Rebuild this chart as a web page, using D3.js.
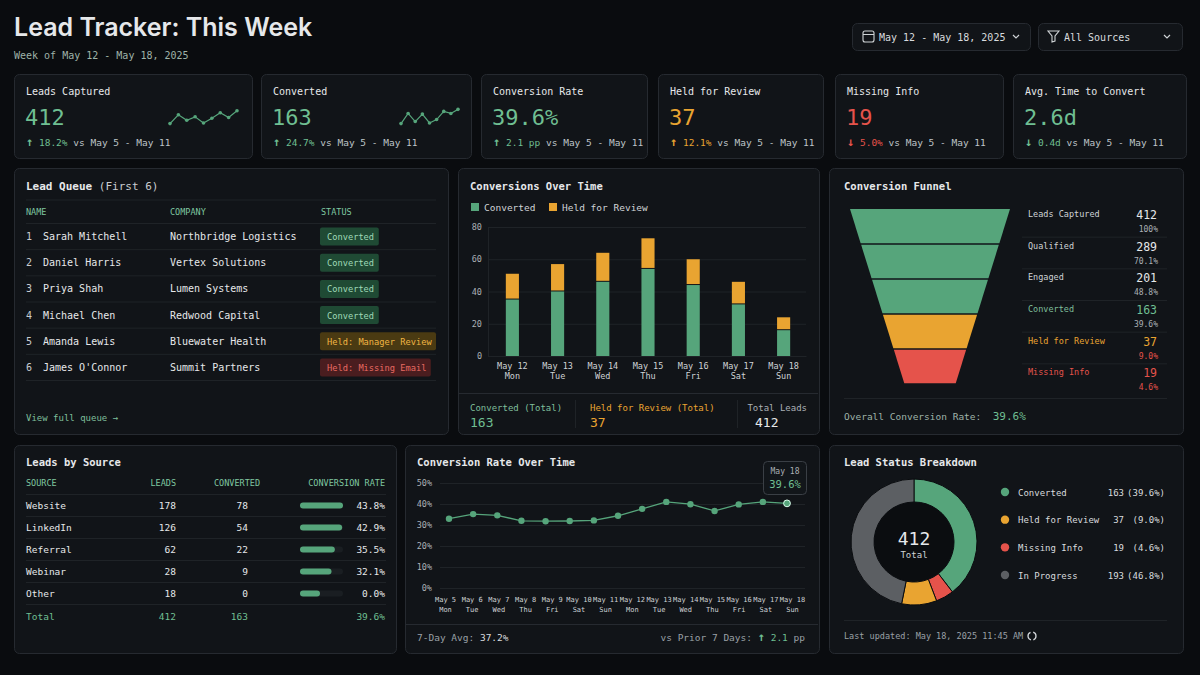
<!DOCTYPE html>
<html><head><meta charset="utf-8">
<script src="https://cdn.jsdelivr.net/npm/d3@7/dist/d3.min.js"></script>
<style>
html,body{margin:0;padding:0;background:#0a0c0f;}
svg{display:block;}
text{font-family:"DejaVu Sans Mono",monospace;white-space:pre;}
</style></head><body>
<svg id="c" width="1200" height="675"></svg>
<script>
// ---------- DATA ----------
const kpiLabels = ["Leads Captured","Converted","Conversion Rate","Held for Review","Missing Info","Avg. Time to Convert"];
const kpiValues = ["412","163","39.6%","37","19","2.6d"];
const kpiDeltas = ["18.2%","24.7%","2.1 pp","12.1%","5.0%","0.4d"];
const kpiArrows = ["↑","↑","↑","↑","↓","↓"];
const kpiTones = ["g","g","g","o","r","g"];
const sparkLeads = [5,18,10,15,6,13,21,14,24];
const sparkConv = [5,20,8,19,6,11,23,20,26];

const queueNames = ["Sarah Mitchell","Daniel Harris","Priya Shah","Michael Chen","Amanda Lewis","James O'Connor"];
const queueCompanies = ["Northbridge Logistics","Vertex Solutions","Lumen Systems","Redwood Capital","Bluewater Health","Summit Partners"];
const queueStatus = ["Converted","Converted","Converted","Converted","Held: Manager Review","Held: Missing Email"];

const days = ["May 12","May 13","May 14","May 15","May 16","May 17","May 18"];
const weekdays = ["Mon","Tue","Wed","Thu","Fri","Sat","Sun"];
const convertedByDay = [35,40,46,54,44,32,16];
const heldByDay = [16,17,18,19,16,14,8];
const barTicks = [0,20,40,60,80];

const funnelStages = ["Leads Captured","Qualified","Engaged","Converted","Held for Review","Missing Info"];
const funnelCounts = [412,289,201,163,37,19];
const funnelPcts = ["100%","70.1%","48.8%","39.6%","9.0%","4.6%"];

const sources = ["Website","LinkedIn","Referral","Webinar","Other"];
const sourceLeads = [178,126,62,28,18];
const sourceConverted = [78,54,22,9,0];
const sourceRates = [43.8,42.9,35.5,32.1,0.0];

const rateDays = ["May 5","May 6","May 7","May 8","May 9","May 10","May 11","May 12","May 13","May 14","May 15","May 16","May 17","May 18"];
const rateWeekdays = ["Mon","Tue","Wed","Thu","Fri","Sat","Sun","Mon","Tue","Wed","Thu","Fri","Sat","Sun"];
const rateValues = [33.0,35.2,34.6,32.0,31.8,31.9,32.2,34.4,37.7,41.0,39.9,36.7,39.8,41.0,40.3];
const rateTicks = [0,10,20,30,40,50];

const statusLabels = ["Converted","Missing Info","Held for Review","In Progress"];
const statusCounts = [163,19,37,193];
const legendLabels = ["Converted","Held for Review","Missing Info","In Progress"];
const legendCounts = ["163","37","19","193"];
const legendPcts = ["(39.6%)","(9.0%)","(4.6%)","(46.8%)"];

// ---------- STYLE ----------
const C = {g:"#56a57b", gt:"#6fbf92", o:"#e9a431", r:"#e5534b", grey:"#5c5f63", txt:"#e6e8ea", sub:"#9aa0a6", dim:"#7d848b", card:"#111418", border:"#262a30", grid:"#1f2327", hdr:"#7fc7a0"};
const tone = {g:C.gt, o:C.o, r:C.r};
const svg = d3.select("#c");
svg.append("rect").attr("width",1200).attr("height",675).attr("fill","#0a0c0f");

function card(x,y,w,h){ svg.append("rect").attr("x",x+.5).attr("y",y+.5).attr("width",w).attr("height",h).attr("rx",5).attr("fill",C.card).attr("stroke",C.border); }
function t(x,y,s,o={}){ const e=svg.append("text").attr("x",x).attr("y",y).text(s).attr("fill",o.fill||C.txt).attr("font-size",o.size||10).attr("text-anchor",o.anchor||"start");
  if(o.weight) e.attr("font-weight",o.weight); if(o.family) e.style("font-family",o.family); return e; }

// ---------- HEADER ----------
t(14,36,"Lead Tracker: This Week",{size:25,weight:600,family:"Inter, 'Noto Sans', sans-serif"});
t(14,59,"Week of May 12 - May 18, 2025",{size:10,fill:"#9fb3a8"});
card(852,23,178,27); card(1038,23,144,27);
svg.append("rect").attr("x",863).attr("y",31).attr("width",11).attr("height",11).attr("rx",2).attr("fill","none").attr("stroke","#cfd3d6").attr("stroke-width",1.1);
svg.append("line").attr("x1",863).attr("x2",874).attr("y1",34.5).attr("y2",34.5).attr("stroke","#cfd3d6");
t(879,41,"May 12 - May 18, 2025",{size:10,fill:"#d8dbde"});
svg.append("path").attr("d","M1013,35 l3,3 l3,-3").attr("fill","none").attr("stroke","#cfd3d6").attr("stroke-width",1.2);
svg.append("path").attr("d","M1048,31 h11 l-4,5 v5 l-3,1 v-6 z").attr("fill","none").attr("stroke","#cfd3d6").attr("stroke-width",1.1);
t(1064,41,"All Sources",{size:10,fill:"#d8dbde"});
svg.append("path").attr("d","M1164,35 l3,3 l3,-3").attr("fill","none").attr("stroke","#cfd3d6").attr("stroke-width",1.2);

// ---------- KPI ----------
const kx=[14,261,481,658,835,1013], kw=[238,210,166,165,168,173];
kpiLabels.forEach((l,i)=>{
  const x=kx[i]; card(x,74,kw[i],84);
  t(x+12,95,l,{size:10});
  t(x+11,125,kpiValues[i],{size:22,fill:tone[kpiTones[i]]});
  const ac = kpiTones[i]==="r"?C.r:(kpiTones[i]==="o"?C.o:C.gt);
  const g=t(x+12,146,"",{size:9.5,fill:"#bfc4c8"});
  g.append("tspan").text(kpiArrows[i]).attr("fill",ac).attr("font-size",12).attr("font-weight","bold");
  g.append("tspan").text(" "+kpiDeltas[i]).attr("fill",ac);
  g.append("tspan").text(" vs May 5 - May 11");
});
function spark(data,x0,x1,y0,y1){
  const sx=d3.scaleLinear().domain([0,data.length-1]).range([x0,x1]);
  const sy=d3.scaleLinear().domain([0,28]).range([y1,y0]);
  svg.append("path").attr("d",d3.line().x((d,i)=>sx(i)).y(d=>sy(d))(data)).attr("fill","none").attr("stroke",C.g).attr("stroke-width",1.2);
  svg.selectAll(null).data(data).enter().append("circle").attr("cx",(d,i)=>sx(i)).attr("cy",d=>sy(d)).attr("r",1.8).attr("fill",C.g);
}
spark(sparkLeads,170,237,108,127);
spark(sparkConv,401,458,108,127);

// ---------- LEAD QUEUE ----------
card(14,168,434,266);
t(26,190,"Lead Queue",{size:11,weight:"bold"}).append("tspan").text(" (First 6)").attr("font-weight","normal").attr("fill","#c9cdd0");
svg.append("line").attr("x1",26).attr("x2",436).attr("y1",200).attr("y2",200).attr("stroke",C.grid);
t(26,215,"NAME",{size:8.5,fill:C.hdr}); t(170,215,"COMPANY",{size:8.5,fill:C.hdr}); t(321,215,"STATUS",{size:8.5,fill:C.hdr});
const qy=d3.scaleBand().domain(d3.range(6)).range([223.5,380.5]);
queueNames.forEach((n,i)=>{
  const y=qy(i), cy=y+qy.bandwidth()/2;
  svg.append("line").attr("x1",26).attr("x2",436).attr("y1",y).attr("y2",y).attr("stroke",C.grid);
  t(26,cy+3.5,String(i+1),{size:10,fill:"#c9cdd0"});
  t(43,cy+3.5,n,{size:10});
  t(170,cy+3.5,queueCompanies[i],{size:10});
  const s=queueStatus[i];
  const bg = s==="Converted"?"#1f4a34":(s.includes("Manager")?"#4a3a12":"#4a1d1f");
  const fg = s==="Converted"?"#9fd9b7":(s.includes("Manager")?"#f0b544":"#e86a62");
  const bw = s.length*5.2+12;
  svg.append("rect").attr("x",320).attr("y",cy-9).attr("width",bw).attr("height",18).attr("rx",2).attr("fill",bg);
  t(327,cy+3.5,s,{size:8.7,fill:fg});
});
svg.append("line").attr("x1",26).attr("x2",436).attr("y1",380.5).attr("y2",380.5).attr("stroke",C.grid);
t(26,421,"View full queue →",{size:9,fill:"#7fbf9b"});

// ---------- CONVERSIONS OVER TIME ----------
card(458,168,361,266);
t(470,190,"Conversions Over Time",{size:10.5,weight:"bold"});
svg.append("rect").attr("x",471).attr("y",203).attr("width",8).attr("height",8).attr("fill",C.g);
t(484,211,"Converted",{size:9.5,fill:"#cfd3d6"});
svg.append("rect").attr("x",549).attr("y",203).attr("width",8).attr("height",8).attr("fill",C.o);
t(562,211,"Held for Review",{size:9.5,fill:"#cfd3d6"});
const bx=d3.scaleBand().domain(days).range([490,806]).paddingInner(0.71).paddingOuter(0.35);
const by=d3.scaleLinear().domain([0,80]).range([356,227]);
svg.append("g").selectAll(null).data(barTicks).enter().append("line").attr("x1",488).attr("x2",806).attr("y1",d=>by(d)+.5).attr("y2",d=>by(d)+.5).attr("stroke",C.grid);
const yAx=svg.append("g").attr("transform","translate(482,0)").call(d3.axisLeft(by).tickValues(barTicks).tickSize(0).tickPadding(0));
yAx.select(".domain").remove(); yAx.selectAll("text").attr("fill","#aab0b5").attr("font-size",8.5).attr("text-anchor","end");
svg.append("line").attr("x1",488.5).attr("x2",488.5).attr("y1",227).attr("y2",356).attr("stroke",C.grid);
svg.selectAll(null).data(days).enter().append("rect").attr("x",d=>bx(d)).attr("width",bx.bandwidth())
  .attr("y",(d,i)=>by(convertedByDay[i])).attr("height",(d,i)=>by(0)-by(convertedByDay[i])).attr("fill",C.g);
svg.selectAll(null).data(days).enter().append("rect").attr("x",d=>bx(d)).attr("width",bx.bandwidth())
  .attr("y",(d,i)=>by(convertedByDay[i]+heldByDay[i])).attr("height",(d,i)=>by(convertedByDay[i])-by(convertedByDay[i]+heldByDay[i])-1).attr("fill",C.o);
const xAx=svg.append("g").attr("transform","translate(0,356)").call(d3.axisBottom(bx).tickSize(0).tickPadding(0));
xAx.select(".domain").attr("stroke",C.grid);
xAx.selectAll("text").each(function(d,i){ const e=d3.select(this).text(null).attr("fill","#cfd3d6").attr("font-size",8.5);
  e.append("tspan").attr("x",0).attr("dy","1.5em").text(d); e.append("tspan").attr("x",0).attr("dy","1.2em").text(weekdays[i]); });
svg.append("line").attr("x1",459).attr("x2",818).attr("y1",393.5).attr("y2",393.5).attr("stroke",C.border);
svg.append("line").attr("x1",575.5).attr("x2",575.5).attr("y1",400).attr("y2",428).attr("stroke",C.grid);
svg.append("line").attr("x1",737.5).attr("x2",737.5).attr("y1",400).attr("y2",428).attr("stroke",C.grid);
t(470,411,"Converted (Total)",{size:9,fill:"#7fbf9b"}); t(470,427,"163",{size:13,fill:C.gt});
t(590,411,"Held for Review (Total)",{size:9,fill:C.o}); t(590,427,"37",{size:13,fill:C.o});
t(807,411,"Total Leads",{size:9,fill:"#aab0b5",anchor:"end"}); t(755,427,"412",{size:13});

// ---------- FUNNEL ----------
card(829,168,354,266);
t(844,190,"Conversion Funnel",{size:10.5,weight:"bold"});
const segColors=[C.g,C.g,C.g,C.o,C.r];
const fy=d3.scaleLinear().domain([0,5]).range([209,384]);
const fw=d3.scaleLinear().domain([209,384]).range([80,25.5]);
segColors.forEach((col,k)=>{
  const y0=fy(k)+(k?0.8:0), y1=fy(k+1)-0.8, cx=930;
  svg.append("path").attr("d",`M${cx-fw(y0)},${y0}L${cx+fw(y0)},${y0}L${cx+fw(y1)},${y1}L${cx-fw(y1)},${y1}Z`).attr("fill",col);
});
const fr=d3.scaleLinear().domain([0,6]).range([205,395]);
funnelStages.forEach((s,i)=>{
  const y=fr(i);
  const c = i===4?C.o:(i===5?C.r:(i===3?"#7fbf9b":"#cfd3d6"));
  const vc = i===4?C.o:(i===5?C.r:(i===3?C.gt:C.txt));
  const pc = i===4||i===5?C.r:"#aab0b5";
  t(1028,y+12,s,{size:8.5,fill:c});
  t(1157,y+14,String(funnelCounts[i]),{size:11.5,fill:vc,anchor:"end"});
  t(1158,y+27,funnelPcts[i],{size:8,fill:pc,anchor:"end"});
  if(i<5) svg.append("line").attr("x1",1022).attr("x2",1167).attr("y1",fr(i+1)+.5).attr("y2",fr(i+1)+.5).attr("stroke",C.grid);
});
svg.append("line").attr("x1",844).attr("x2",1167).attr("y1",398.5).attr("y2",398.5).attr("stroke",C.grid);
const ov=t(844,420,"Overall Conversion Rate:  ",{size:9.5,fill:"#9fb3a8"});
ov.append("tspan").text("39.6%").attr("fill",C.gt).attr("font-size",11);

// ---------- LEADS BY SOURCE ----------
card(14,445,382,208);
t(26,466,"Leads by Source",{size:10.5,weight:"bold"});
t(26,486,"SOURCE",{size:8.5,fill:C.hdr}); t(176,486,"LEADS",{size:8.5,fill:C.hdr,anchor:"end"});
t(260,486,"CONVERTED",{size:8.5,fill:C.hdr,anchor:"end"}); t(385,486,"CONVERSION RATE",{size:8.5,fill:C.hdr,anchor:"end"});
const sy=d3.scaleBand().domain(sources).range([494.5,604.5]);
const sw=d3.scaleLinear().domain([0,43.8]).range([0,43]);
sources.forEach((s,i)=>{
  const y=sy(s), cy=y+sy.bandwidth()/2;
  svg.append("line").attr("x1",26).attr("x2",386).attr("y1",y).attr("y2",y).attr("stroke",C.grid);
  t(26,cy+3.5,s,{size:9.5});
  t(176,cy+3.5,String(sourceLeads[i]),{size:9.5,anchor:"end"});
  t(248,cy+3.5,String(sourceConverted[i]),{size:9.5,anchor:"end"});
  svg.append("rect").attr("x",300).attr("y",cy-3).attr("width",43).attr("height",6).attr("rx",3).attr("fill","#1a1e22");
  svg.append("rect").attr("x",300).attr("y",cy-3).attr("width",Math.max(20,sw(sourceRates[i]))).attr("height",6).attr("rx",3).attr("fill",C.g);
  t(385,cy+3.5,sourceRates[i].toFixed(1)+"%",{size:9.5,anchor:"end"});
});
svg.append("line").attr("x1",26).attr("x2",386).attr("y1",604.5).attr("y2",604.5).attr("stroke",C.grid);
t(26,620,"Total",{size:9.5,fill:C.gt}); t(176,620,"412",{size:9.5,fill:C.gt,anchor:"end"});
t(248,620,"163",{size:9.5,fill:C.gt,anchor:"end"}); t(385,620,"39.6%",{size:9.5,fill:C.gt,anchor:"end"});

// ---------- CONVERSION RATE OVER TIME ----------
card(405,445,414,208);
t(417,466,"Conversion Rate Over Time",{size:10.5,weight:"bold"});
const ly=d3.scaleLinear().domain([0,50]).range([588,483]);
const lxl=d3.scalePoint().domain(rateDays).range([445,792]);
const lx=d3.scaleLinear().domain([0,rateValues.length-1]).range([449,787]);
svg.selectAll(null).data(rateTicks).enter().append("line").attr("x1",440).attr("x2",805).attr("y1",d=>ly(d)+.5).attr("y2",d=>ly(d)+.5).attr("stroke",C.grid);
const lyAx=svg.append("g").attr("transform","translate(432,0)").call(d3.axisLeft(ly).tickValues(rateTicks).tickFormat(d=>d+"%").tickSize(0).tickPadding(0));
lyAx.select(".domain").remove(); lyAx.selectAll("text").attr("fill","#aab0b5").attr("font-size",8.5).attr("dy","0.35em");
const lxAx=svg.append("g").attr("transform","translate(0,596)").call(d3.axisBottom(lxl).tickSize(0).tickPadding(0));
lxAx.select(".domain").remove();
lxAx.selectAll("text").each(function(d,i){ const e=d3.select(this).text(null).attr("fill","#cfd3d6").attr("font-size",7);
  e.append("tspan").attr("x",0).attr("dy","0.9em").text(d); e.append("tspan").attr("x",0).attr("dy","1.4em").text(rateWeekdays[i]); });
svg.append("path").attr("d",d3.line().x((d,i)=>lx(i)).y(d=>ly(d))(rateValues)).attr("fill","none").attr("stroke",C.g).attr("stroke-width",1.3);
svg.selectAll(null).data(rateValues).enter().append("circle").attr("cx",(d,i)=>lx(i)).attr("cy",d=>ly(d)).attr("r",(d,i)=>i===rateValues.length-1?3.4:3.2)
  .attr("fill",C.g).attr("stroke",(d,i)=>i===rateValues.length-1?"#dfe":"none").attr("stroke-width",1);
svg.append("rect").attr("x",763.5).attr("y",461.5).attr("width",43).attr("height",33).attr("rx",4).attr("fill","#12161a").attr("stroke","#3a3f45");
t(785,474,"May 18",{size:8,fill:"#aab0b5",anchor:"middle"});
t(785,488,"39.6%",{size:10.5,fill:C.gt,anchor:"middle"});
svg.append("line").attr("x1",406).attr("x2",818).attr("y1",624.5).attr("y2",624.5).attr("stroke",C.border);
const av=t(417,641,"7-Day Avg: ",{size:9.5,fill:"#9aa0a6"}); av.append("tspan").text("37.2%").attr("fill","#d8dbde");
const vp=t(805,641,"vs Prior 7 Days: ",{size:9.5,fill:"#9aa0a6",anchor:"end"});
vp.append("tspan").text("↑").attr("fill",C.gt).attr("font-size",12).attr("font-weight","bold"); vp.append("tspan").text(" 2.1").attr("fill",C.gt); vp.append("tspan").text(" pp").attr("fill","#9aa0a6");

// ---------- STATUS DONUT ----------
card(829,445,354,208);
t(844,466,"Lead Status Breakdown",{size:10.5,weight:"bold"});
const dColors={"Converted":C.g,"Held for Review":C.o,"Missing Info":C.r,"In Progress":C.grey};
const pie=d3.pie().sort(null).value(d=>d.v)(statusLabels.map((l,i)=>({l,v:statusCounts[i]})));
const arc=d3.arc().innerRadius(40).outerRadius(63);
const dg=svg.append("g").attr("transform","translate(914,542)");
dg.selectAll(null).data(pie).enter().append("path").attr("d",arc).attr("fill",d=>dColors[d.data.l]).attr("stroke","#0a0c0f").attr("stroke-width",1);
dg.append("circle").attr("r",39.5).attr("fill","#0b0d10");
t(914,545,"412",{size:18,anchor:"middle"});
t(914,558,"Total",{size:9,anchor:"middle",fill:"#cfd3d6"});
const lgy=d3.scalePoint().domain(legendLabels).range([492,575]);
legendLabels.forEach((l,i)=>{
  const y=lgy(l);
  svg.append("circle").attr("cx",1005).attr("cy",y).attr("r",4.2).attr("fill",dColors[l]);
  t(1018,y+3.5,l,{size:9,fill:"#d8dbde"});
  t(1124,y+3.5,legendCounts[i],{size:9,fill:"#d8dbde",anchor:"end"});
  t(1165,y+3.5,legendPcts[i],{size:9,fill:"#d8dbde",anchor:"end"});
});
svg.append("line").attr("x1",844).attr("x2",1167).attr("y1",620.5).attr("y2",620.5).attr("stroke",C.grid);
t(844,639,"Last updated: May 18, 2025 11:45 AM",{size:8.5,fill:"#9aa0a6"});
[[0.3,2.8],[3.4,5.9]].forEach(a=>svg.append("path").attr("d",d3.arc().innerRadius(4).outerRadius(4).startAngle(a[0]).endAngle(a[1])()).attr("transform","translate(1032,636)").attr("fill","none").attr("stroke","#cfd3d6").attr("stroke-width",1.3));
</script></body></html>
